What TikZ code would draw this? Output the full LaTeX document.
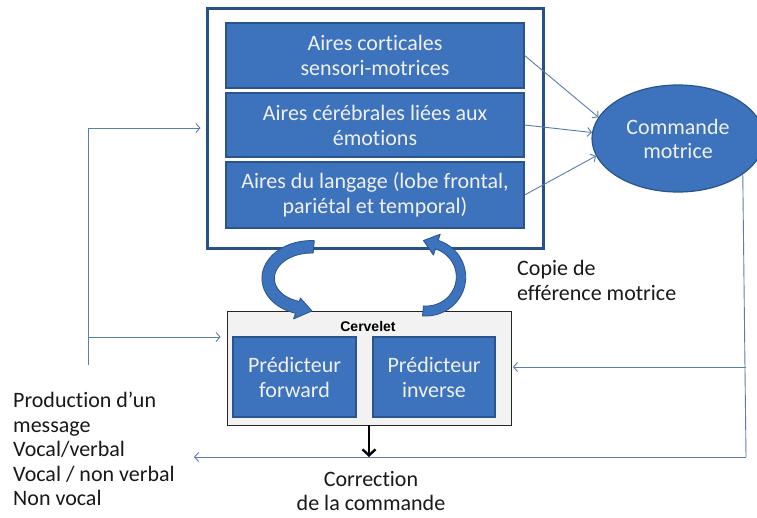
\documentclass[tikz,border=0pt]{standalone}
\usepackage{fontspec}
\setmainfont{Carlito}[RawFeature={-liga}]
\newfontfamily\arialfont{Liberation Sans}
\usetikzlibrary{arrows.meta,shapes.geometric}
\definecolor{bfill}{RGB}{61,114,189}
\definecolor{bline}{RGB}{42,84,140}
\definecolor{obox}{RGB}{40,82,135}
\definecolor{fbline}{RGB}{88,126,172}
\definecolor{txt}{RGB}{25,25,25}
\definecolor{cgray}{RGB}{242,242,242}
\tikzset{
  bluebox/.style={draw=bline, line width=1.2pt, fill=bfill, text=white!94!black,
    align=center, inner sep=0pt, font=\fontsize{22}{25}\selectfont},
  outerbox/.style={draw=obox, line width=3pt, fill=white, inner sep=0pt},
  cervbox/.style={draw=black!85, line width=0.8pt, fill=cgray, inner sep=0pt},
  fb/.style={draw=fbline, line width=0.9pt},
  fbarrow/.style={fb, -{Straight Barb[length=4pt,width=9pt]}},
  lbl/.style={text=txt, font=\fontsize{22}{25}\selectfont, inner sep=0pt},
  blockarrow/.style={fill=bfill, draw=bline, line width=0.8pt, line join=round}
}
\begin{document}
\begin{tikzpicture}[x=1pt,y=-1pt]
\useasboundingbox (0,0) rectangle (757,517);
\fill[white] (0,0) rectangle (757,517);

% outer box and brain areas
\node[outerbox, minimum width=336pt, minimum height=240pt] (outer) at (375,128) {};
\node[bluebox, minimum width=298pt, minimum height=65pt] (b1) at (375,55.5) {Aires corticales\\sensori-motrices};
\node[bluebox, minimum width=298pt, minimum height=64pt] (b2) at (375,125) {Aires cérébrales liées aux\\émotions};
\node[bluebox, minimum width=298pt, minimum height=66pt] (b3) at (375,195) {Aires du langage (lobe frontal,\\pariétal et temporal)};

% motor command
\node[ellipse, draw=bline, line width=1.2pt, fill=bfill, text=white!94!black,
  minimum width=172pt, minimum height=107pt, inner sep=0pt, align=center,
  font=\fontsize{22}{24}\selectfont] (cmd) at (678,138.5) {Commande\\motrice};

% cerebellum
\node[cervbox, minimum width=284pt, minimum height=114pt] (cerv) at (369,368) {};
\node[font=\arialfont\bfseries\fontsize{14}{16}\selectfont, inner sep=0pt] (cervlbl) at (368,326) {Cervelet};
\node[bluebox, minimum width=123pt, minimum height=80pt] (pf) at (294.5,377) {Prédicteur\\forward};
\node[bluebox, minimum width=122pt, minimum height=80pt] (pi) at (434,377) {Prédicteur\\inverse};

% arrows from areas to motor command
\draw[fbarrow] (b1.east) -- (cmd.165);
\draw[fbarrow] (b2.east) -- (cmd.176);
\draw[fbarrow] (b3.east) -- (cmd.192);

% left feedback
\coordinate (L1) at (88,128);
\coordinate (L2) at (88,365);
\coordinate (L3) at (88,337);
\draw[fb] (L2) -- (L1);
\draw[fbarrow, shorten >=5pt] (L1) -- (outer.west);
\draw[fbarrow, shorten >=6pt] (L3) -- (L3 -| cerv.west);

% right feedback
\coordinate (R2) at (746,457);
\coordinate (R3) at (745.5,367);
\coordinate (Lend) at (194,457);
\draw[fb] (cmd.-29) -- (R2);
\draw[fbarrow] (R2) -- (Lend);
\draw[fbarrow, shorten >=1.5pt] (R3) -- (R3 -| cerv.east);

% correction arrow
\draw[black, line width=2.4pt, -{Straight Barb[length=6pt,width=13pt]}] (cerv.south) -- (cerv.south |- R2);

% curved block arrows
\draw[blockarrow]
  plot[domain=0:1, samples=40, variable=\t]
    ({310+(49.5-2.5*\t)*cos(275-167*\t)}, {279+(38.5-2.5*\t)*sin(275-167*\t)})
  -- (293.6,318.9) -- (312,311) -- (300.4,298.0)
  -- plot[domain=0:1, samples=40, variable=\t]
    ({310+(34.5+2.5*\t)*cos(108+167*\t)}, {279+(23.5+2.5*\t)*sin(108+167*\t)})
  -- cycle;
\draw[blockarrow]
  plot[domain=0:1, samples=40, variable=\t]
    ({426+(40-0.5*\t)*cos(95-167*\t)}, {277+(39-0.5*\t)*sin(95-167*\t)})
  -- (440.2,234.2) -- (423.4,240.5) -- (433.4,255.1)
  -- plot[domain=0:1, samples=40, variable=\t]
    ({426+(30.5-0.5*\t)*cos(-72+167*\t)}, {277+(29.5-0.5*\t)*sin(-72+167*\t)})
  -- cycle;

% labels
\node[lbl, anchor=west, align=left] (copie) at (517,280) {Copie de\\efférence motrice};
\node[lbl, align=center, font=\fontsize{22}{24}\selectfont] (corr) at (371,491) {Correction\\de la commande};
\node[lbl, anchor=west, align=left, font=\fontsize{22}{24.5}\selectfont] (prod) at (13,449) {Production d’un\\message\\Vocal/verbal\\Vocal / non verbal\\Non vocal};
\end{tikzpicture}
\end{document}
